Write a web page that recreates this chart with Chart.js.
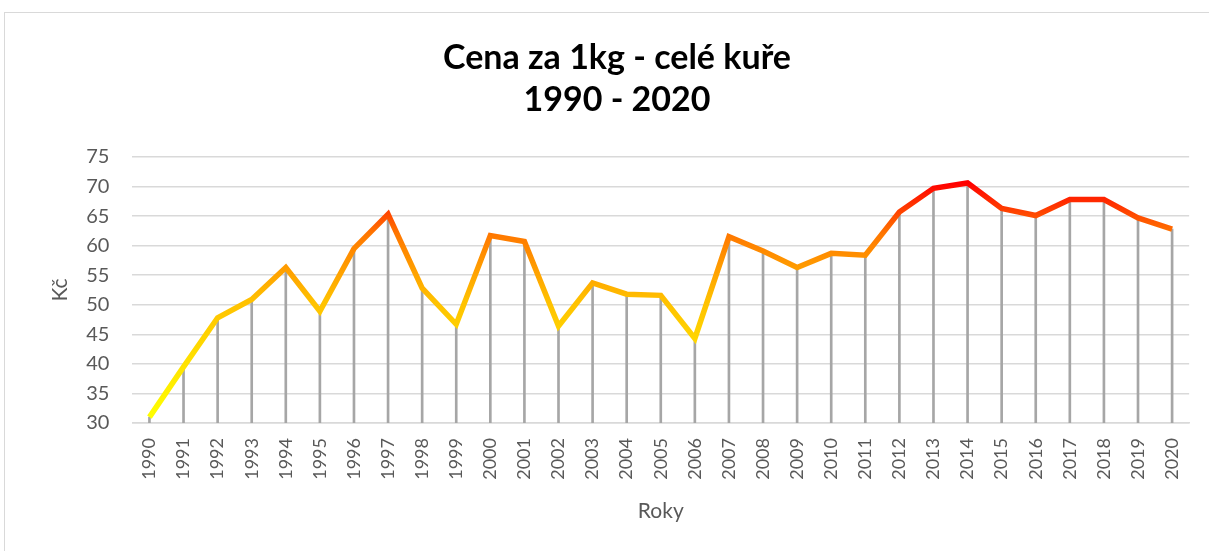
<!DOCTYPE html>
<html>
<head>
<meta charset="utf-8">
<script src="https://cdn.jsdelivr.net/npm/chart.js@4"></script>
<style>
    html, body { margin: 0; padding: 0; background: #fff; overflow: hidden; }
    #frame {
        position: absolute; left: 4px; top: 12px;
        width: 1220px; height: 560px;
        border: 1.5px solid #d9d9d9;
    }
    #wrap { position: absolute; left: 0; top: 0; width: 1209px; height: 551px; }
</style>
</head>
<body>
<div id="frame"></div>
<div id="wrap"><canvas id="chicken-price" width="1209" height="551"></canvas></div>
<script>
const years  = ['1990','1991','1992','1993','1994','1995','1996','1997','1998','1999',
                '2000','2001','2002','2003','2004','2005','2006','2007','2008','2009',
                '2010','2011','2012','2013','2014','2015','2016','2017','2018','2019','2020'];
const prices = [31.0, 39.5, 47.8, 50.9, 56.3, 48.9, 59.5, 65.3, 52.8, 46.7,
                61.7, 60.7, 46.4, 53.7, 51.8, 51.6, 44.3, 61.5, 59.1, 56.3,
                58.7, 58.4, 65.7, 69.7, 70.6, 66.3, 65.1, 67.8, 67.8, 64.7, 62.8];
const yMin   = 30;
const yMax   = 75;
const yStep  = 5;

const textGrey = '#595959';

// colour the line by its value: yellow low, red high
function lineGradient(context)
{
    const chart = context.chart;
    const area  = chart.chartArea;
    if (!area) return '#ff8000';
    const y = chart.scales.y;
    const lo = Math.min(...prices), hi = Math.max(...prices);
    const g = chart.ctx.createLinearGradient(0, y.getPixelForValue(lo), 0, y.getPixelForValue(hi));
    g.addColorStop(0,    '#ffff00');
    g.addColorStop(0.5,  '#ffc000');
    g.addColorStop(0.78, '#ff7800');
    g.addColorStop(1,    '#ff0000');
    return g;
}

Chart.defaults.font.family = 'Lato, "Open Sans", sans-serif';
Chart.defaults.color = textGrey;

new Chart(document.getElementById('chicken-price'), {
    data: {
        labels: years,
        datasets: [{
            type: 'line',
            label: 'Cena',
            data: prices,
            borderColor: lineGradient,
            borderWidth: 5.5,
            pointRadius: 0,
            tension: 0,
            order: 0
        }, {
            // drop lines from each point down to the axis
            type: 'bar',
            label: 'drop',
            data: prices,
            backgroundColor: '#a6a6a6',
            barThickness: 2,
            order: 1
        }]
    },
    options: {
        responsive: false,
        animation: false,
        devicePixelRatio: 1,
        layout: {
            padding: { left: 44, right: 19, top: 37, bottom: 23 }
        },
        plugins: {
            legend: { display: false },
            tooltip: { enabled: false },
            title: {
                display: true,
                text: ['Cena za 1kg - celé kuře', '1990 - 2020'],
                color: '#000',
                font: { size: 34, weight: 'bold', lineHeight: 1.235 },
                padding: { top: 0, bottom: 36 }
            }
        },
        scales: {
            x: {
                offset: true,
                grid: { display: false, drawTicks: false },
                border: { color: '#d9d9d9', width: 1.5 },
                ticks: {
                    minRotation: 90,
                    maxRotation: 90,
                    autoSkip: false,
                    padding: 15,
                    font: { size: 18 }
                },
                title: {
                    display: true,
                    text: 'Roky',
                    font: { size: 21 },
                    padding: { top: 4, bottom: 4 }
                }
            },
            y: {
                min: yMin,
                max: yMax,
                grid: { color: '#d9d9d9', lineWidth: 1.5, drawTicks: false },
                border: { display: false },
                ticks: {
                    stepSize: yStep,
                    padding: 23,
                    font: { size: 20 }
                },
                title: {
                    display: true,
                    text: 'Kč',
                    font: { size: 21 },
                    padding: { top: 4, bottom: -10 }
                }
            }
        }
    }
});
</script>
</body>
</html>
